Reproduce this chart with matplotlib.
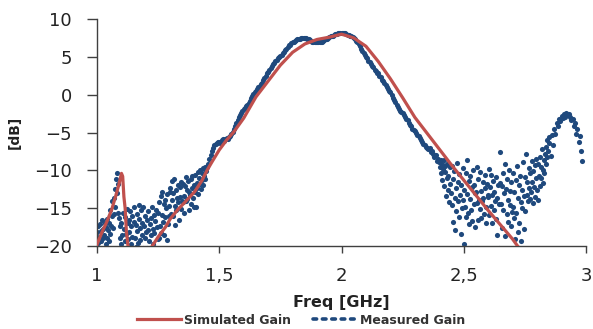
import numpy
from matplotlib import pyplot
from matplotlib.lines import Line2D
from matplotlib.ticker import FuncFormatter


# simulated gain (smooth curve)
sim_freq = [
    1.00, 1.02, 1.04, 1.06, 1.08, 1.09, 1.10, 1.105, 1.11, 1.115, 1.12,
    1.13, 1.15, 1.20, 1.22, 1.25, 1.28, 1.30, 1.33, 1.36, 1.40, 1.43,
    1.45, 1.47, 1.50, 1.53, 1.56, 1.60, 1.65, 1.70, 1.75, 1.80, 1.85,
    1.90, 1.95, 2.00, 2.05, 2.10, 2.15, 2.20, 2.25, 2.30, 2.35, 2.40,
    2.45, 2.50, 2.55, 2.60, 2.65, 2.70, 2.72, 2.74,
]
sim_gain = [
    -19.8, -18.2, -16.8, -15.2, -13.0, -11.8, -10.4, -10.8, -13.5, -15.0, -18.0,
    -21.0, -22.5, -21.5, -20.3, -18.8, -17.5, -16.4, -15.2, -14.2, -12.8, -11.3,
    -10.0, -8.9, -7.3, -6.0, -4.9, -3.1, -0.3, 1.8, 3.9, 5.6, 6.7,
    7.3, 7.6, 8.0, 7.5, 6.4, 4.4, 2.1, -0.4, -3.0, -5.1, -7.2,
    -9.3, -11.3, -13.3, -15.3, -17.2, -19.1, -20.0, -20.8,
]

# measured gain, read in four pieces: (start GHz, step GHz, values)
# noisy low band, 2.5 MHz steps from 1.000 GHz
meas_low = [
    -18.2, -19.6, -17.4, -20.3, -18.8, -17.1, -19.4, -18.0, -16.6, -19.0,
    -17.8, -20.6, -18.5, -16.9, -19.7, -17.5, -18.9, -16.4, -17.9, -19.3,
    -16.9, -18.4, -15.2, -17.3, -16.0, -14.1, -17.6, -13.6, -15.8, -12.5,
    -14.8, -11.2, -10.4, -13.0, -11.8, -15.6, -16.3, -18.9, -17.4, -19.8,
    -16.9, -18.6, -20.4, -15.6, -17.8, -19.3, -16.2, -18.4, -20.2, -15.1,
    -17.0, -19.1, -16.5, -18.2, -15.4, -19.7, -17.3, -16.1, -18.8, -20.5,
    -16.8, -14.9, -18.9, -17.2, -20.1, -15.8, -18.0, -19.6, -16.4, -14.6,
    -17.6, -19.2, -15.3, -18.5, -16.9, -20.3, -14.8, -17.4, -19.0, -16.0,
    -18.2, -20.3, -16.6, -17.9, -15.4, -19.4, -17.1, -20.5, -16.3, -18.6,
    -14.9, -17.7, -19.8, -15.9, -18.3, -16.7, -20.2, -15.2, -17.5, -19.1,
    -15.6, -19.0, -14.2, -17.4, -13.4, -18.3, -15.9, -12.8, -16.8, -14.4,
    -18.6, -13.9, -16.2, -15.0, -19.2, -13.1, -17.1, -14.7, -16.0, -12.9,
    -12.4, -15.8, -13.9, -11.4, -16.1, -13.0, -11.2, -14.7, -17.2, -12.6,
    -15.3, -13.6, -11.9, -14.2, -16.5, -12.2, -13.5, -15.1, -11.6, -14.0,
    -14.2, -11.8, -13.4, -15.6, -12.1, -10.9, -14.1, -12.6, -13.8, -11.4,
    -15.2, -12.9, -13.3, -11.1, -14.5, -12.4, -10.8, -13.7, -12.0, -14.9,
    -12.9, -10.6, -14.8, -11.7, -12.3, -10.2, -13.1, -11.0, -9.9, -11.8,
    -12.5, -10.4, -11.3, -9.7, -12.0, -10.8, -9.5, -11.1, -10.1, -9.8,
]
# passband, 5 MHz steps from 1.450 GHz
meas_mid = [
    -9.6, -9.1, -8.5, -8.0, -7.4, -7.0, -6.7, -6.5, -6.4, -6.3,
    -6.2, -6.4, -6.0, -5.9, -6.1, -5.8, -5.7, -5.9, -5.6, -5.4,
    -5.2, -4.9, -4.6, -4.2, -3.8, -3.4, -3.0, -2.7, -2.4, -2.1,
    -1.9, -1.7, -1.5, -1.3, -1.1, -0.8, -0.5, -0.2, 0.1, 0.3,
    0.5, 0.7, 1.0, 1.2, 1.4, 1.6, 1.9, 2.2, 2.5, 2.8,
    3.0, 3.3, 3.5, 3.8, 4.0, 4.2, 4.4, 4.6, 4.8, 5.0,
    5.1, 5.3, 5.5, 5.7, 5.9, 6.1, 6.3, 6.5, 6.6, 6.8,
    6.9, 7.0, 7.1, 7.2, 7.3, 7.4, 7.4, 7.5, 7.5, 7.5,
    7.5, 7.5, 7.4, 7.3, 7.2, 7.1, 7.0, 7.0, 6.9, 6.9,
    6.9, 6.9, 6.9, 7.0, 7.0, 7.1, 7.2, 7.3, 7.4, 7.5,
    7.6, 7.7, 7.8, 7.8, 7.9, 8.0, 8.0, 8.1, 8.1, 8.2,
    8.2, 8.2, 8.2, 8.1, 8.0, 7.9, 7.9, 7.8, 7.7, 7.6,
    7.5, 7.3, 7.1, 6.9, 6.7, 6.4, 6.1, 5.8, 5.5, 5.3,
    5.0, 4.8, 4.5, 4.3, 4.0, 3.8, 3.6, 3.3, 3.1, 2.9,
    2.8, 2.5, 2.3, 2.0, 1.8, 1.5, 1.3, 1.0, 0.8, 0.5,
    0.3, 0.0, -0.4, -0.7, -1.0, -1.3, -1.6, -1.9, -2.1, -2.3,
    -2.4, -2.7, -2.9, -3.2, -3.4, -3.7, -4.0, -4.2, -4.5, -4.7,
    -4.8, -5.1, -5.3, -5.5, -5.7, -6.0, -6.2, -6.5, -6.7, -6.9,
    -7.0, -7.2, -7.1, -7.6, -7.4, -7.8, -8.3, -8.0, -8.8, -8.5,
]
# noisy high band, 2.5 MHz steps from 2.400 GHz
meas_high = [
    -8.9, -9.6, -8.7, -10.4, -9.2, -11.3, -9.8, -8.6, -12.1, -10.2,
    -9.4, -13.4, -11.0, -9.1, -12.6, -10.7, -14.2, -9.5, -11.8, -13.0,
    -9.4, -14.6, -11.2, -16.8, -10.1, -13.7, -17.9, -12.3, -15.4, -9.0,
    -11.6, -14.1, -16.2, -10.5, -13.2, -18.4, -12.0, -15.0, -9.7, -13.9,
    -19.8, -12.6, -14.9, -10.3, -16.2, -13.1, -8.6, -15.7, -11.4, -17.1,
    -13.8, -10.8, -15.3, -12.2, -16.7, -9.9, -14.4, -11.9, -17.5, -13.0,
    -12.8, -9.5, -14.3, -16.6, -11.1, -13.9, -15.1, -10.2, -12.7, -16.3,
    -14.0, -11.5, -13.6, -15.8, -10.6, -12.4, -14.8, -16.9, -11.8, -13.3,
    -13.5, -9.8, -15.9, -12.2, -14.7, -10.6, -16.9, -13.2, -11.4, -15.2,
    -12.8, -14.1, -10.9, -16.4, -13.7, -18.6, -12.0, -20.3, -14.5, -11.7,
    -7.6, -14.4, -12.1, -17.6, -10.3, -15.2, -13.0, -9.1, -18.7, -12.5,
    -15.8, -11.2, -13.9, -16.8, -10.0, -14.6, -12.7, -17.3, -11.5, -15.5,
    -14.8, -10.4, -16.3, -12.9, -19.1, -11.3, -15.7, -9.4, -18.2, -13.6,
    -12.0, -16.9, -10.7, -14.2, -19.4, -12.6, -15.0, -8.9, -13.4, -17.8,
    -10.9, -15.4, -7.8, -13.2, -11.6, -14.1, -9.7, -12.4, -13.8, -10.3,
    -12.9, -8.8, -11.5, -14.3, -10.1, -12.2, -9.3, -13.5, -11.0, -8.5,
    -12.6, -9.2, -13.9, -10.8, -8.3, -12.1, -9.6, -11.0, -7.2, -9.9,
    -11.7, -8.6, -10.4, -7.8, -9.1, -6.9, -8.2, -6.0, -7.4, -5.6,
]
# top bump, 5 MHz steps from 2.850 GHz
meas_top = [
    -6.4, -8.1, -5.3, -6.6, -4.5, -5.2, -3.8, -4.1, -3.2, -3.5,
    -2.8, -3.1, -2.5, -2.9, -2.4, -2.7, -2.6, -3.0, -3.4, -3.2,
    -4.1, -3.8, -5.2, -4.6, -6.3, -5.5, -7.4, -8.8,
]
meas_piece = [
    (1.000, 0.0025, meas_low),
    (1.450, 0.005, meas_mid),
    (2.400, 0.0025, meas_high),
    (2.850, 0.005, meas_top),
]

x_ticks = [1, 1.5, 2, 2.5, 3]
y_ticks = [-20, -15, -10, -5, 0, 5, 10]

red = '#c0504d'
blue = '#1f497d'
axis_color = '#404040'

meas_freq = numpy.concatenate([start + step * numpy.arange(len(values)) for start, step, values in meas_piece])
meas_gain = numpy.concatenate([values for start, step, values in meas_piece])

figure = pyplot.figure(figsize=(5.93, 3.29), dpi=100)
ax = figure.add_axes([0.1636, 0.2523, 0.8246, 0.6899])

ax.plot(meas_freq, meas_gain, linestyle='none', marker='o', markersize=3.7,
        markeredgewidth=0, color=blue, zorder=2)
ax.plot(sim_freq, sim_gain, color=red, linewidth=2.3, zorder=3)

ax.set_xlim(1, 3)
ax.set_ylim(-20, 10)
ax.set_xticks(x_ticks)
ax.set_yticks(y_ticks)
ax.xaxis.set_major_formatter(FuncFormatter(lambda v, pos: f'{v:g}'.replace('.', ',')))

ax.spines['top'].set_visible(False)
ax.spines['right'].set_visible(False)
for side in ['left', 'bottom']:
    ax.spines[side].set_color(axis_color)
    ax.spines[side].set_linewidth(1)
ax.tick_params(axis='y', length=7, width=1, color=axis_color, pad=11,
               labelsize=13, labelcolor='#222222')
ax.tick_params(axis='x', length=5, width=1, color=axis_color, pad=10,
               labelsize=13, labelcolor='#222222')

ax.set_xlabel('Freq [GHz]', fontsize=11.5, fontweight='bold', color='#222222', va='top')
ax.xaxis.set_label_coords(0.5, -0.215)
ax.set_ylabel('[dB]', fontsize=10, fontweight='bold', color='#222222', va='center')
ax.yaxis.set_label_coords(-0.168, 0.5)

handle = [
    Line2D([], [], color=red, linewidth=2.3),
    Line2D([], [], color=blue, linewidth=2.6, linestyle=(0, (1, 1.6)), dash_capstyle='round'),
]
figure.legend(handle, ['Simulated Gain', 'Measured Gain'], loc='center',
              bbox_to_anchor=(0.508, 0.027), ncol=2, frameon=False,
              prop={'size': 9, 'weight': 'bold'}, labelcolor='#333333',
              handlelength=3.5, handletextpad=0.3, columnspacing=1.7)

figure.savefig('out.png', dpi=100)
